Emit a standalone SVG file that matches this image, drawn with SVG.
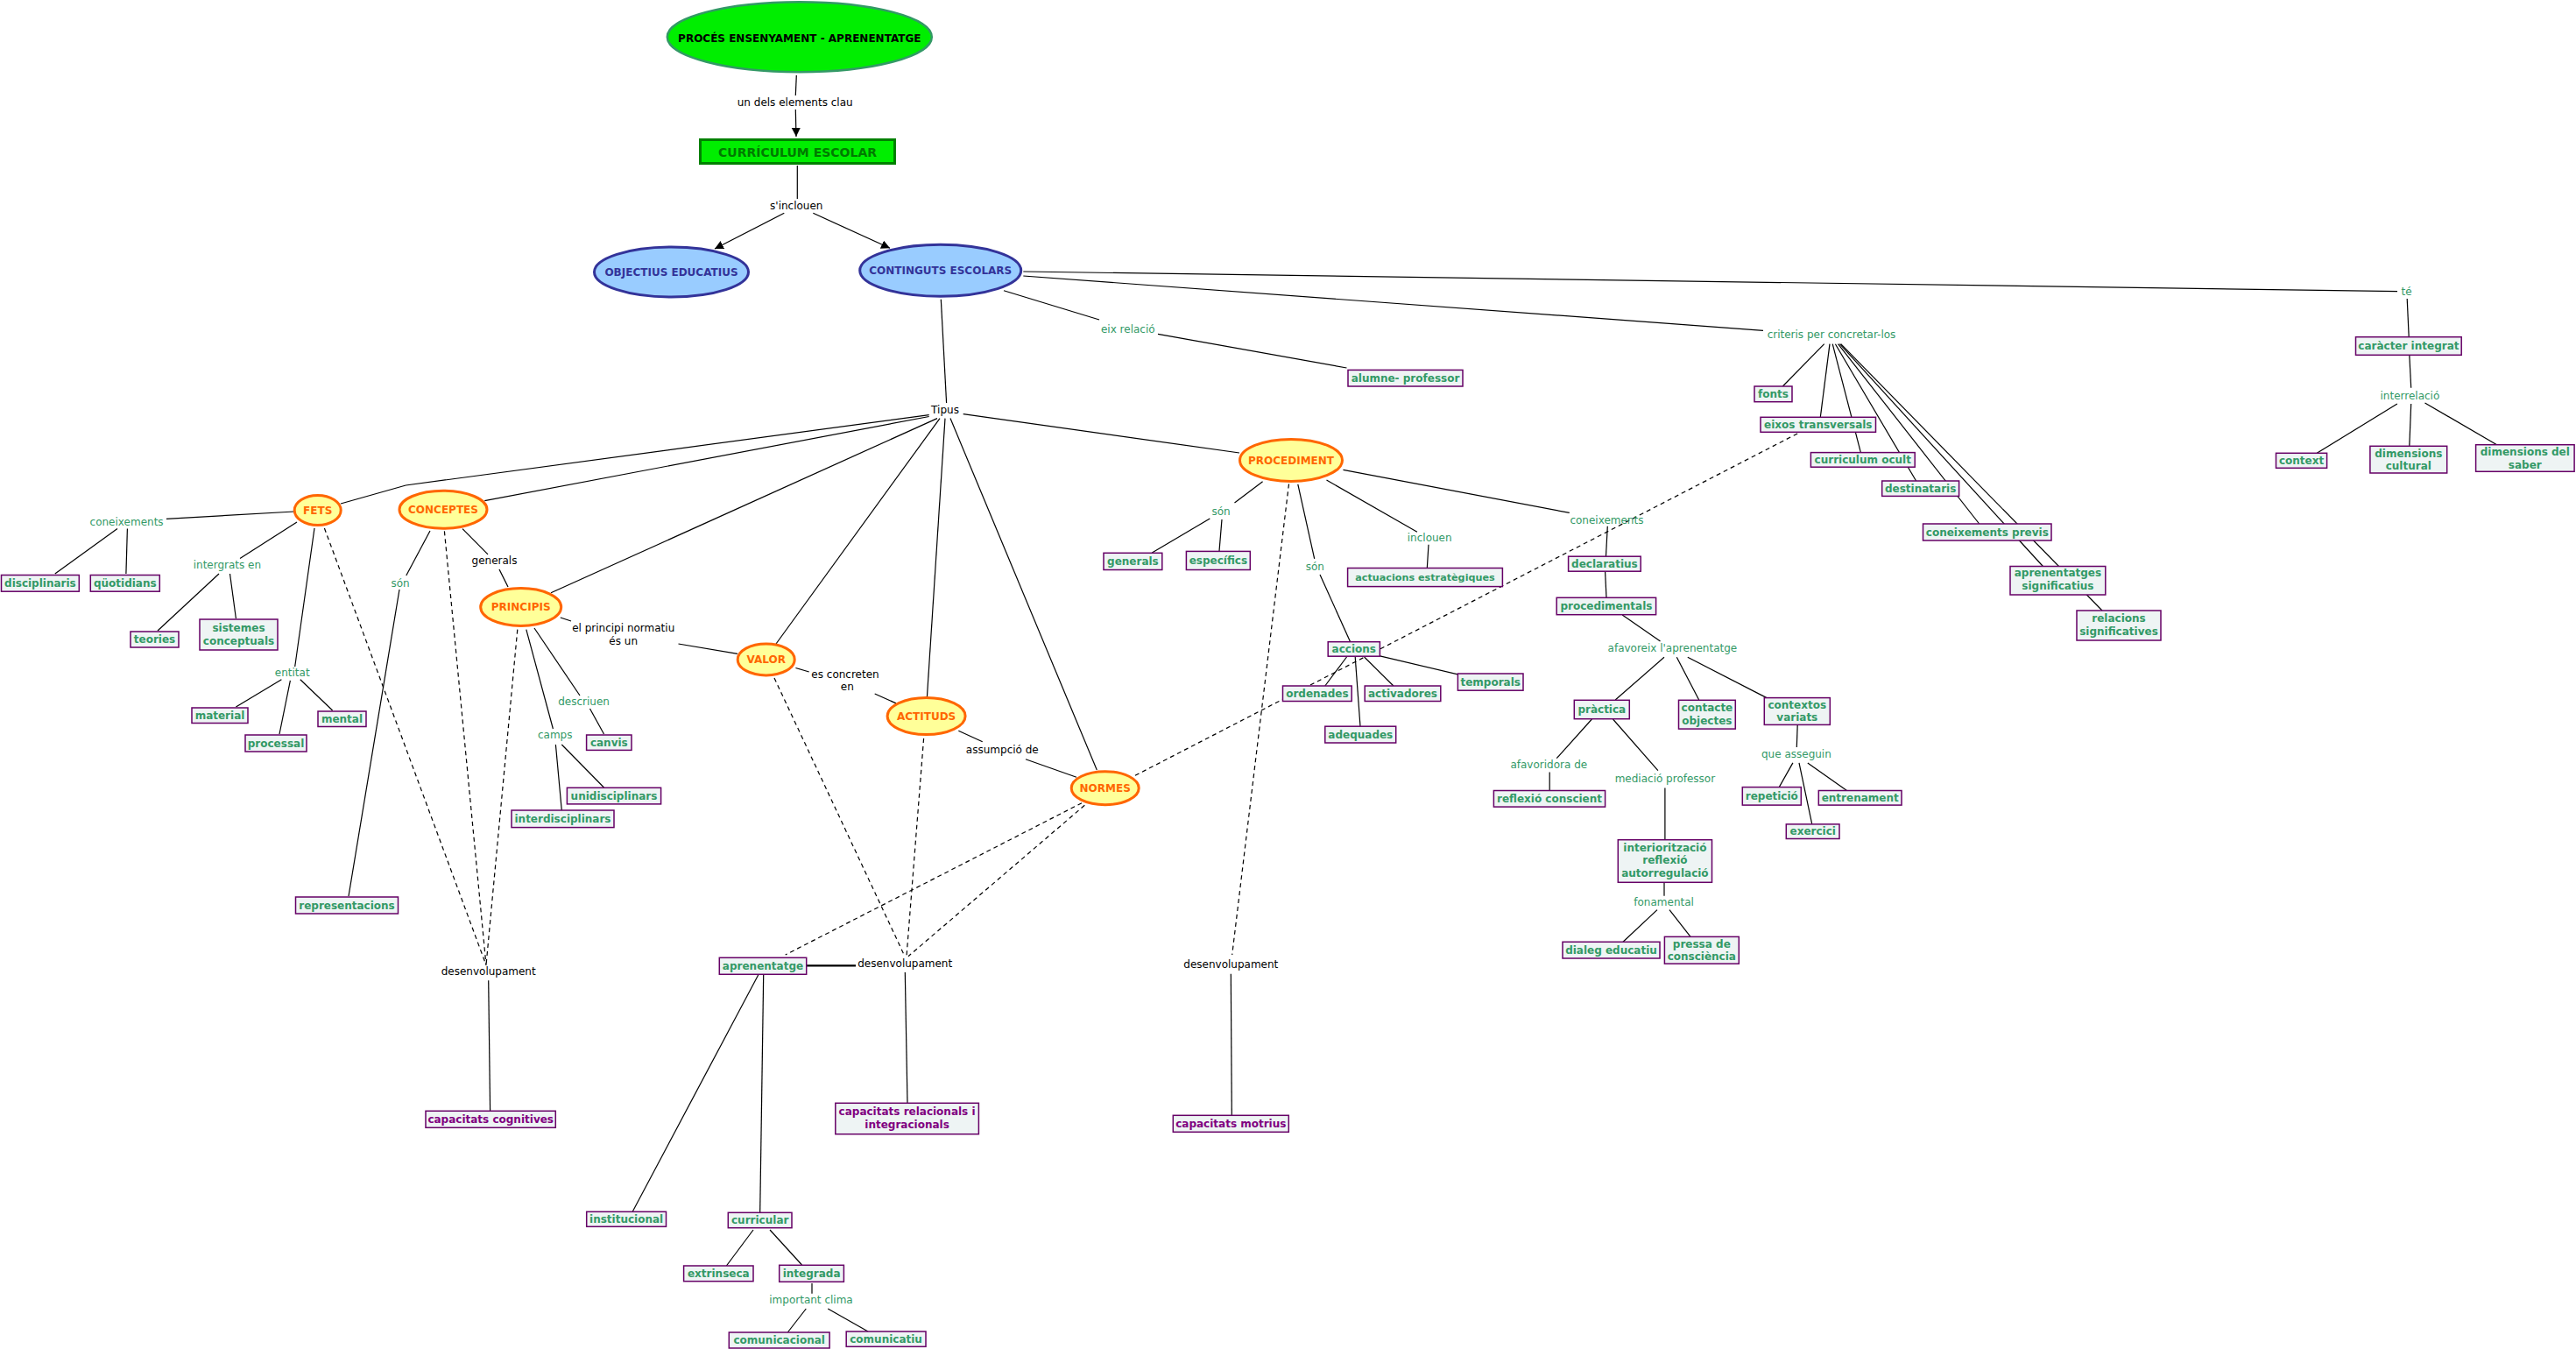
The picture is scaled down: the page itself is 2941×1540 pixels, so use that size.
<svg xmlns="http://www.w3.org/2000/svg" width="2941" height="1540" viewBox="0 0 2941 1540">
<style>
  text { font-family: "DejaVu Sans", Verdana, sans-serif; font-size: 12px; text-anchor: middle; }
  .ln { stroke: #000; stroke-width: 1.2; fill: none; }
  .ds { stroke: #000; stroke-width: 1.2; fill: none; stroke-dasharray: 5 4; }
  .bx { fill: #eef4f4; stroke: #660066; stroke-width: 1.5; }
  .bt { fill: #339966; font-weight: bold; }
  .pt { fill: #800080; font-weight: bold; }
  .gl { fill: #339966; }
  .bl { fill: #000; }
  .oe { fill: #ffff99; stroke: #ff6600; stroke-width: 3; }
  .ot { fill: #ff6600; font-weight: bold; }
  .be { fill: #99ccff; stroke: #333399; stroke-width: 3; }
  .btx { fill: #333399; font-weight: bold; }
</style>
<defs>
  <marker id="arr" markerUnits="userSpaceOnUse" markerWidth="11" markerHeight="11" refX="10" refY="5" orient="auto">
    <path d="M0,0 L10,5 L0,10 z" fill="#000"/>
  </marker>
</defs>
<rect width="2941" height="1540" fill="#fff"/>

<g id="connectors">
  <line class="ln" x1="909.3" y1="86" x2="908.3" y2="109"/>
  <line class="ln" x1="908.3" y1="125" x2="909" y2="156" marker-end="url(#arr)"/>
  <line class="ln" x1="910.3" y1="189" x2="910.3" y2="227"/>
  <line class="ln" x1="895.3" y1="243.3" x2="816" y2="284" marker-end="url(#arr)"/>
  <line class="ln" x1="928.3" y1="243.3" x2="1016" y2="283.3" marker-end="url(#arr)"/>
  <line class="ln" x1="1074.3" y1="341.7" x2="1080.6" y2="460"/>
  <line class="ln" x1="1146" y1="331.7" x2="1255" y2="365"/>
  <line class="ln" x1="1322" y1="381.4" x2="1537.5" y2="420"/>
  <line class="ln" x1="1168.3" y1="315" x2="2013" y2="377.3"/>
  <line class="ln" x1="1168.3" y1="310" x2="2737" y2="332.7"/>

  <polyline class="ln" points="1060.7,473.6 463.3,554 389,575"/>
  <line class="ln" x1="1060.7" y1="475.5" x2="553.3" y2="571.7"/>
  <line class="ln" x1="1070" y1="477.6" x2="629" y2="676.8"/>
  <line class="ln" x1="1073" y1="477.6" x2="886" y2="735"/>
  <line class="ln" x1="1079" y1="477.6" x2="1058.4" y2="795.7"/>
  <line class="ln" x1="1085" y1="477.6" x2="1252.3" y2="879"/>
  <line class="ln" x1="1099.7" y1="472.6" x2="1415" y2="517"/>

  <line class="ln" x1="336" y1="584" x2="190" y2="592.3"/>
  <line class="ln" x1="134" y1="603.6" x2="62.8" y2="655"/>
  <line class="ln" x1="145.4" y1="603.6" x2="143.9" y2="655"/>
  <line class="ln" x1="339" y1="596" x2="274" y2="637.5"/>
  <line class="ln" x1="250" y1="655" x2="180" y2="720"/>
  <line class="ln" x1="262.5" y1="655" x2="269.4" y2="706"/>
  <line class="ln" x1="359" y1="603" x2="336.7" y2="761"/>
  <line class="ln" x1="321.4" y1="775.7" x2="269.4" y2="807"/>
  <line class="ln" x1="331.4" y1="776.8" x2="319" y2="838"/>
  <line class="ln" x1="342.8" y1="775.7" x2="379.6" y2="811"/>

  <line class="ln" x1="491" y1="606" x2="463.8" y2="657"/>
  <line class="ln" x1="456" y1="673" x2="398" y2="1023"/>
  <line class="ln" x1="528" y1="603.6" x2="557" y2="632.9"/>
  <line class="ln" x1="570" y1="650" x2="580" y2="670"/>

  <line class="ln" x1="639.8" y1="705" x2="652" y2="709"/>
  <line class="ln" x1="774.5" y1="735" x2="842" y2="746.4"/>
  <line class="ln" x1="610" y1="717" x2="662" y2="794"/>
  <line class="ln" x1="673.5" y1="809" x2="689.5" y2="838"/>
  <line class="ln" x1="600.8" y1="718.6" x2="631.4" y2="832"/>
  <line class="ln" x1="641.3" y1="850" x2="689.5" y2="899"/>
  <line class="ln" x1="634.4" y1="850" x2="641.3" y2="925"/>

  <line class="ln" x1="908.4" y1="762.5" x2="923.7" y2="767"/>
  <line class="ln" x1="998.7" y1="792" x2="1023" y2="802.9"/>
  <line class="ln" x1="1094.3" y1="834.3" x2="1121.7" y2="846.7"/>
  <line class="ln" x1="1171" y1="866.7" x2="1229" y2="887.3"/>

  <line class="ln" x1="557.7" y1="1119.3" x2="559.6" y2="1268"/>
  <line class="ln" x1="921" y1="1102.3" x2="977" y2="1102.3" style="stroke-width:2.2"/>
  <line class="ln" x1="1033.3" y1="1110" x2="1036" y2="1259"/>
  <line class="ln" x1="1405.3" y1="1111.7" x2="1406.3" y2="1273"/>
  <line class="ln" x1="865.7" y1="1113" x2="722.3" y2="1383"/>
  <line class="ln" x1="871.7" y1="1113" x2="867.7" y2="1384"/>
  <line class="ln" x1="860" y1="1404" x2="829.4" y2="1445"/>
  <line class="ln" x1="879" y1="1404" x2="915.5" y2="1444"/>
  <line class="ln" x1="927" y1="1465" x2="927" y2="1476.7"/>
  <line class="ln" x1="920.3" y1="1494" x2="899.3" y2="1521"/>
  <line class="ln" x1="945.2" y1="1494" x2="991" y2="1520"/>

  <line class="ds" x1="370.4" y1="603" x2="555" y2="1101.7"/>
  <line class="ds" x1="507.4" y1="606.4" x2="555" y2="1101.7"/>
  <line class="ds" x1="590.8" y1="718.6" x2="555" y2="1101.7"/>
  <line class="ds" x1="884" y1="774" x2="1033" y2="1091.7"/>
  <line class="ds" x1="1054.6" y1="843" x2="1035" y2="1091.7"/>
  <line class="ds" x1="1238.3" y1="919.3" x2="1037" y2="1091.7"/>
  <line class="ds" x1="1235" y1="916.7" x2="896.7" y2="1090"/>
  <line class="ds" x1="1296" y1="885.3" x2="2054" y2="494"/>
  <line class="ds" x1="1471.5" y1="552.5" x2="1406.7" y2="1090"/>

  <line class="ln" x1="1441.6" y1="549.8" x2="1409.5" y2="574"/>
  <line class="ln" x1="1381.3" y1="592" x2="1315.3" y2="631"/>
  <line class="ln" x1="1395" y1="593" x2="1392" y2="629"/>
  <line class="ln" x1="1481.8" y1="552.9" x2="1500.7" y2="637.8"/>
  <line class="ln" x1="1507" y1="656" x2="1541.5" y2="732.5"/>
  <line class="ln" x1="1537.5" y1="750" x2="1512.8" y2="783"/>
  <line class="ln" x1="1557.6" y1="750" x2="1590.9" y2="783"/>
  <line class="ln" x1="1547.2" y1="750" x2="1553" y2="829"/>
  <line class="ln" x1="1575.5" y1="748.8" x2="1664.4" y2="769.9"/>
  <line class="ln" x1="1514.5" y1="548" x2="1617.9" y2="607.2"/>
  <line class="ln" x1="1631" y1="621.8" x2="1629.3" y2="648.5"/>
  <line class="ln" x1="1533.5" y1="536.4" x2="1791.8" y2="585.4"/>
  <line class="ln" x1="1835.3" y1="600.8" x2="1833.5" y2="635"/>
  <line class="ln" x1="1832.6" y1="652.5" x2="1834" y2="682"/>
  <line class="ln" x1="1852.2" y1="702" x2="1895.5" y2="732"/>
  <line class="ln" x1="1900" y1="750.3" x2="1844.2" y2="799"/>
  <line class="ln" x1="1914.3" y1="750.3" x2="1939.7" y2="799"/>
  <line class="ln" x1="1926.8" y1="750.3" x2="2017" y2="796.6"/>
  <line class="ln" x1="1817.4" y1="821" x2="1777.2" y2="865.7"/>
  <line class="ln" x1="1769.2" y1="881.6" x2="1769.2" y2="902.5"/>
  <line class="ln" x1="1841.5" y1="821" x2="1892.9" y2="879.6"/>
  <line class="ln" x1="1900.9" y1="899.4" x2="1900.9" y2="958.7"/>
  <line class="ln" x1="1900" y1="1007.5" x2="1900" y2="1022.7"/>
  <line class="ln" x1="1892" y1="1038.6" x2="1853" y2="1075.3"/>
  <line class="ln" x1="1906" y1="1038.6" x2="1930" y2="1069.4"/>
  <line class="ln" x1="2052.2" y1="827.5" x2="2051.3" y2="853.1"/>
  <line class="ln" x1="2046.9" y1="870.9" x2="2031.25" y2="898.6"/>
  <line class="ln" x1="2054" y1="870.9" x2="2068.75" y2="940.9"/>
  <line class="ln" x1="2063.8" y1="870.9" x2="2108.5" y2="902.5"/>

  <line class="ln" x1="2082.7" y1="392.7" x2="2035.3" y2="441"/>
  <line class="ln" x1="2089" y1="392.7" x2="2078.3" y2="476.3"/>
  <line class="ln" x1="2092.2" y1="392.7" x2="2124.4" y2="516.6"/>
  <line class="ln" x1="2095.4" y1="392.7" x2="2187.6" y2="549"/>
  <line class="ln" x1="2098.5" y1="392.7" x2="2259.7" y2="598"/>
  <line class="ln" x1="2100.4" y1="392.7" x2="2332.4" y2="646.5"/>
  <line class="ln" x1="2101.7" y1="392.7" x2="2400" y2="697"/>

  <line class="ln" x1="2748.2" y1="341" x2="2750.2" y2="384.7"/>
  <line class="ln" x1="2750.8" y1="405.3" x2="2752.7" y2="442.7"/>
  <line class="ln" x1="2736.9" y1="461" x2="2645.2" y2="517.3"/>
  <line class="ln" x1="2752.7" y1="461" x2="2750.8" y2="509.3"/>
  <line class="ln" x1="2768.5" y1="460" x2="2850.6" y2="507.7"/>
</g>

<g id="link-labels">
  <text class="bl" x="907.7" y="120.7">un dels elements clau</text>
  <text class="bl" x="909.3" y="239">s'inclouen</text>
  <text class="bl" x="1079" y="472">Tipus</text>
  <text class="bl" x="564.5" y="644">generals</text>
  <text class="bl" x="711.7" y="721">el principi normatiu</text>
  <text class="bl" x="711.7" y="736">és un</text>
  <text class="bl" x="965" y="773.6">es concreten</text>
  <text class="bl" x="967.3" y="788.3">en</text>
  <text class="bl" x="1144.3" y="859.7">assumpció de</text>
  <text class="bl" x="557.7" y="1113.3">desenvolupament</text>
  <text class="bl" x="1033.2" y="1104.3">desenvolupament</text>
  <text class="bl" x="1405.3" y="1104.7">desenvolupament</text>

  <text class="gl" x="144.6" y="599.7">coneixements</text>
  <text class="gl" x="259.4" y="648.6">intergrats en</text>
  <text class="gl" x="333.7" y="771.9">entitat</text>
  <text class="gl" x="457" y="669.7">són</text>
  <text class="gl" x="666.6" y="805">descriuen</text>
  <text class="gl" x="633.7" y="842.6">camps</text>
  <text class="gl" x="926" y="1488">important clima</text>
  <text class="gl" x="1287.8" y="379.7">eix relació</text>
  <text class="gl" x="2091" y="386">criteris per concretar-los</text>
  <text class="gl" x="2747.6" y="337.3">té</text>
  <text class="gl" x="2751.4" y="455.7">interrelació</text>
  <text class="gl" x="1394" y="588.2">són</text>
  <text class="gl" x="1501.3" y="650.6">són</text>
  <text class="gl" x="1632.2" y="617.7">inclouen</text>
  <text class="gl" x="1834.4" y="597.7">coneixements</text>
  <text class="gl" x="1909.4" y="744">afavoreix l'aprenentatge</text>
  <text class="gl" x="1768.3" y="876.9">afavoridora de</text>
  <text class="gl" x="1900.9" y="892.7">mediació professor</text>
  <text class="gl" x="2050.9" y="864.6">que asseguin</text>
  <text class="gl" x="1899.6" y="1033.9">fonamental</text>
</g>

<g id="n-proces">
  <ellipse cx="912.8" cy="42.2" rx="151" ry="40" fill="#00ee00" stroke="#339966" stroke-width="2.5"/>
  <text x="912.8" y="48.3" style="font-weight:bold" fill="#000">PROCÉS ENSENYAMENT - APRENENTATGE</text>
</g>
<g id="n-curriculum">
  <rect x="799.5" y="159.5" width="222" height="27" fill="#00ee00" stroke="#008000" stroke-width="3"/>
  <text x="910.5" y="179" style="font-weight:bold;font-size:14px" fill="#007a00">CURRÍCULUM ESCOLAR</text>
</g>
<g id="n-objectius">
  <ellipse class="be" cx="766.5" cy="310.5" rx="88" ry="28.5"/>
  <text class="btx" x="766.5" y="315.3">OBJECTIUS EDUCATIUS</text>
</g>
<g id="n-continguts">
  <ellipse class="be" cx="1073.7" cy="308.7" rx="92" ry="29.5"/>
  <text class="btx" x="1073.7" y="312.8">CONTINGUTS ESCOLARS</text>
</g>

<g id="n-fets"><ellipse class="oe" cx="362.7" cy="582.5" rx="26.5" ry="17"/><text class="ot" x="362.7" y="587.2">FETS</text></g>
<g id="n-conceptes"><ellipse class="oe" cx="506" cy="581.7" rx="50" ry="21.5"/><text class="ot" x="506" y="586.3">CONCEPTES</text></g>
<g id="n-principis"><ellipse class="oe" cx="594.7" cy="693" rx="46" ry="21.5"/><text class="ot" x="594.7" y="697.3">PRINCIPIS</text></g>
<g id="n-valor"><ellipse class="oe" cx="874.7" cy="752.9" rx="32.5" ry="18"/><text class="ot" x="874.7" y="757.3">VALOR</text></g>
<g id="n-actituds"><ellipse class="oe" cx="1057.6" cy="817.5" rx="44.5" ry="21"/><text class="ot" x="1057.6" y="822.3">ACTITUDS</text></g>
<g id="n-normes"><ellipse class="oe" cx="1261.7" cy="899.7" rx="38.5" ry="19"/><text class="ot" x="1261.7" y="904">NORMES</text></g>
<g id="n-procediment"><ellipse class="oe" cx="1474" cy="525.4" rx="58.5" ry="24"/><text class="ot" x="1474" y="530.3">PROCEDIMENT</text></g>

<g id="n-disciplinaris"><rect class="bx" x="1.5" y="656.5" width="88.8" height="18.7"/><text class="bt" x="45.9" y="670">disciplinaris</text></g>
<g id="n-quotidians"><rect class="bx" x="103.3" y="656.5" width="79" height="18.7"/><text class="bt" x="142.8" y="670">qüotidians</text></g>
<g id="n-teories"><rect class="bx" x="149" y="721" width="55" height="18"/><text class="bt" x="176.5" y="734">teories</text></g>
<g id="n-sistemes"><rect class="bx" x="228" y="707" width="89" height="35"/><text class="bt" x="272.5" y="721">sistemes</text><text class="bt" x="272.5" y="736">conceptuals</text></g>
<g id="n-material"><rect class="bx" x="219" y="808" width="64" height="17.5"/><text class="bt" x="251" y="820.5">material</text></g>
<g id="n-mental"><rect class="bx" x="363" y="812" width="55" height="17.5"/><text class="bt" x="390.5" y="824.7">mental</text></g>
<g id="n-processal"><rect class="bx" x="280" y="839" width="70" height="19"/><text class="bt" x="315" y="852.5">processal</text></g>
<g id="n-representacions"><rect class="bx" x="337.5" y="1024" width="117" height="19"/><text class="bt" x="396" y="1037.5">representacions</text></g>
<g id="n-canvis"><rect class="bx" x="669.6" y="839" width="51.4" height="17.4"/><text class="bt" x="695.3" y="851.7">canvis</text></g>
<g id="n-unidisciplinars"><rect class="bx" x="647.4" y="899.3" width="107.2" height="18.6"/><text class="bt" x="701" y="912.6">unidisciplinars</text></g>
<g id="n-interdisciplinars"><rect class="bx" x="584" y="925" width="117" height="19.6"/><text class="bt" x="642.5" y="938.8">interdisciplinars</text></g>
<g id="n-aprenentatge"><rect class="bx" x="821.3" y="1093.3" width="99.4" height="19"/><text class="bt" x="871" y="1106.8">aprenentatge</text></g>
<g id="n-institucional"><rect class="bx" x="669.7" y="1383.3" width="90.8" height="17"/><text class="bt" x="715.1" y="1395.8">institucional</text></g>
<g id="n-curricular"><rect class="bx" x="831.3" y="1384.3" width="72.7" height="17.4"/><text class="bt" x="867.7" y="1397">curricular</text></g>
<g id="n-extrinseca"><rect class="bx" x="780.6" y="1445" width="79.4" height="17.7"/><text class="bt" x="820.3" y="1457.9">extrinseca</text></g>
<g id="n-integrada"><rect class="bx" x="889.7" y="1444.3" width="73.7" height="19"/><text class="bt" x="926.6" y="1457.8">integrada</text></g>
<g id="n-comunicacional"><rect class="bx" x="832.3" y="1521" width="114.8" height="18"/><text class="bt" x="889.7" y="1534">comunicacional</text></g>
<g id="n-comunicatiu"><rect class="bx" x="966.2" y="1520" width="90.8" height="17.3"/><text class="bt" x="1011.6" y="1532.7">comunicatiu</text></g>
<g id="n-alumne"><rect class="bx" x="1539" y="422.4" width="131" height="18.6"/><text class="bt" x="1604.5" y="435.7">alumne- professor</text></g>
<g id="n-generals"><rect class="bx" x="1260" y="631.3" width="66.8" height="19.2"/><text class="bt" x="1293.4" y="644.9">generals</text></g>
<g id="n-especifics"><rect class="bx" x="1354.4" y="629.4" width="72.9" height="21.1"/><text class="bt" x="1390.9" y="644">específics</text></g>
<g id="n-actuacions"><rect class="bx" x="1538.6" y="648.5" width="176.8" height="21.1"/><text class="bt" x="1627" y="663" style="font-size:11.2px">actuacions estratègiques</text></g>
<g id="n-accions"><rect class="bx" x="1516.2" y="732.7" width="59.2" height="16.5"/><text class="bt" x="1545.8" y="745">accions</text></g>
<g id="n-ordenades"><rect class="bx" x="1464.5" y="783" width="78.7" height="17.5"/><text class="bt" x="1503.9" y="795.8">ordenades</text></g>
<g id="n-activadores"><rect class="bx" x="1558.2" y="783" width="86.6" height="17.5"/><text class="bt" x="1601.5" y="795.8">activadores</text></g>
<g id="n-adequades"><rect class="bx" x="1512.8" y="829.2" width="80.9" height="18.8"/><text class="bt" x="1553.3" y="842.6">adequades</text></g>
<g id="n-temporals"><rect class="bx" x="1664.4" y="769" width="74.6" height="19.2"/><text class="bt" x="1701.7" y="782.6">temporals</text></g>
<g id="n-declaratius"><rect class="bx" x="1790.6" y="635.2" width="82.6" height="17"/><text class="bt" x="1831.9" y="647.7">declaratius</text></g>
<g id="n-procedimentals"><rect class="bx" x="1777.2" y="682.3" width="113.4" height="19.4"/><text class="bt" x="1833.9" y="696">procedimentals</text></g>
<g id="n-practica"><rect class="bx" x="1797.3" y="799.3" width="63" height="21.4"/><text class="bt" x="1828.8" y="814">pràctica</text></g>
<g id="n-contacte"><rect class="bx" x="1916.5" y="799.3" width="64.8" height="32.8"/><text class="bt" x="1948.9" y="812.2">contacte</text><text class="bt" x="1948.9" y="826.5">objectes</text></g>
<g id="n-contextos"><rect class="bx" x="2014.3" y="796.6" width="75" height="30.8"/><text class="bt" x="2051.8" y="808.5">contextos</text><text class="bt" x="2051.8" y="823">variats</text></g>
<g id="n-reflexio"><rect class="bx" x="1705.4" y="902.5" width="127.2" height="18.6"/><text class="bt" x="1769" y="915.8">reflexió conscient</text></g>
<g id="n-interioritzacio"><rect class="bx" x="1847.3" y="958.7" width="107.2" height="48.6"/><text class="bt" x="1900.9" y="971.8">interiorització</text><text class="bt" x="1900.9" y="986.4">reflexió</text><text class="bt" x="1900.9" y="1001">autorregulació</text></g>
<g id="n-dialeg"><rect class="bx" x="1784" y="1075.3" width="111" height="18.7"/><text class="bt" x="1839.5" y="1088.7">dialeg educatiu</text></g>
<g id="n-pressa"><rect class="bx" x="1900.4" y="1069.4" width="84.9" height="30.8"/><text class="bt" x="1942.8" y="1082">pressa de</text><text class="bt" x="1942.8" y="1096.3">consciència</text></g>
<g id="n-repeticio"><rect class="bx" x="1989.3" y="898.6" width="67" height="20.5"/><text class="bt" x="2022.8" y="912.9">repetició</text></g>
<g id="n-exercici"><rect class="bx" x="2039.3" y="940.9" width="60.7" height="16.6"/><text class="bt" x="2069.7" y="953.2">exercici</text></g>
<g id="n-entrenament"><rect class="bx" x="2076.3" y="902.5" width="94.7" height="16.6"/><text class="bt" x="2123.7" y="914.8">entrenament</text></g>
<g id="n-fonts"><rect class="bx" x="2003" y="441" width="43" height="17.7"/><text class="bt" x="2024.5" y="453.9">fonts</text></g>
<g id="n-eixos"><rect class="bx" x="2010" y="476.3" width="131.5" height="17"/><text class="bt" x="2075.8" y="488.8">eixos transversals</text></g>
<g id="n-ocult"><rect class="bx" x="2067.4" y="516.6" width="118.8" height="16.6"/><text class="bt" x="2126.8" y="528.9">curriculum ocult</text></g>
<g id="n-destinataris"><rect class="bx" x="2148.7" y="549" width="87.9" height="17.4"/><text class="bt" x="2192.7" y="561.7">destinataris</text></g>
<g id="n-previs"><rect class="bx" x="2195.5" y="598" width="146.5" height="19"/><text class="bt" x="2268.8" y="611.5">coneixements previs</text></g>
<g id="n-aprsig"><rect class="bx" x="2295" y="646.5" width="108.8" height="32.5"/><text class="bt" x="2349.4" y="658.3">aprenentatges</text><text class="bt" x="2349.4" y="673">significatius</text></g>
<g id="n-relsig"><rect class="bx" x="2371" y="697" width="96" height="34"/><text class="bt" x="2419" y="710">relacions</text><text class="bt" x="2419" y="724.7">significatives</text></g>
<g id="n-caracter"><rect class="bx" x="2689.5" y="384.7" width="120.7" height="20.6"/><text class="bt" x="2749.9" y="399">caràcter integrat</text></g>
<g id="n-context"><rect class="bx" x="2598.5" y="517.3" width="58.1" height="17"/><text class="bt" x="2627.6" y="529.8">context</text></g>
<g id="n-dimcult"><rect class="bx" x="2705.9" y="509.3" width="87.8" height="30.7"/><text class="bt" x="2749.8" y="522">dimensions</text><text class="bt" x="2749.8" y="536.3">cultural</text></g>
<g id="n-dimsaber"><rect class="bx" x="2826.6" y="507.7" width="112.5" height="30.6"/><text class="bt" x="2882.8" y="520">dimensions del</text><text class="bt" x="2882.8" y="534.7">saber</text></g>
<g id="n-capcog"><rect class="bx" x="486" y="1268.3" width="148.3" height="19"/><text class="pt" x="560.2" y="1281.8">capacitats cognitives</text></g>
<g id="n-caprel"><rect class="bx" x="953.8" y="1259.3" width="163.6" height="35.4"/><text class="pt" x="1035.6" y="1273.3">capacitats relacionals i</text><text class="pt" x="1035.6" y="1288">integracionals</text></g>
<g id="n-capmot"><rect class="bx" x="1339.3" y="1273.3" width="132" height="19"/><text class="pt" x="1405.3" y="1286.8">capacitats motrius</text></g>
</svg>
